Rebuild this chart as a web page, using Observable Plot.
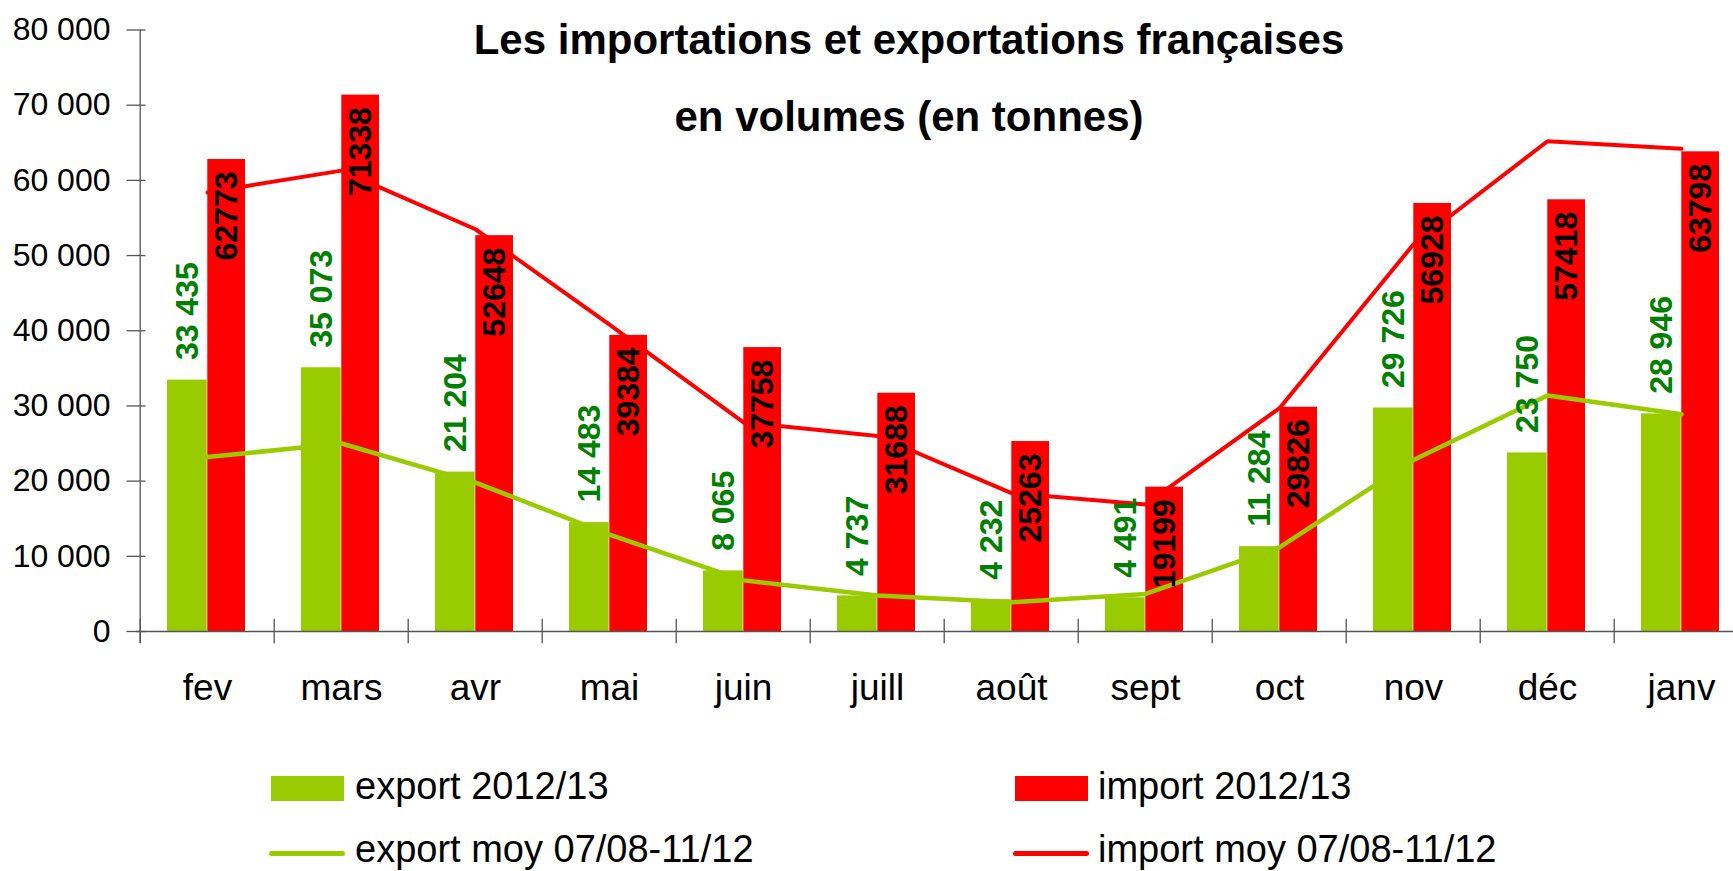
<!DOCTYPE html>
<html>
<head>
<meta charset="utf-8">
<script src="https://cdn.jsdelivr.net/npm/d3@7"></script>
<script src="https://cdn.jsdelivr.net/npm/@observablehq/plot@0.6"></script>
<style>
html, body { margin: 0; padding: 0; background: #fff; overflow: hidden; }
#wrap { position: relative; width: 1733px; height: 871px; font-family: "Liberation Sans", Arial, sans-serif; color: #000; }
#chart { position: absolute; left: 0; top: 0; }
#title { position: absolute; left: 409px; top: 2.1px; width: 1000px; text-align: center; font-weight: bold; font-size: 42px; line-height: 76.7px; white-space: nowrap; }
.lg-text { position: absolute; font-size: 38px; line-height: 38px; white-space: nowrap; }
.lg-box { position: absolute; width: 73px; height: 25px; }
.lg-line { position: absolute; width: 76px; height: 5px; border-radius: 2.5px; }
</style>
</head>
<body>
<div id="wrap">
  <div id="chart"></div>
  <div id="title">Les importations et exportations françaises<br>en volumes (en tonnes)</div>
  <div id="legend"></div>
</div>
<script>
// ---- data ----
const months = ["fev", "mars", "avr", "mai", "juin", "juill", "août", "sept", "oct", "nov", "déc", "janv"];
const exportVals = [33435, 35073, 21204, 14483, 8065, 4737, 4232, 4491, 11284, 29726, 23750, 28946];
const importVals = [62773, 71338, 52648, 39384, 37758, 31688, 25263, 19199, 29826, 56928, 57418, 63798];
const exportAvg = [23200, 25000, 19800, 12900, 6800, 4800, 3900, 5000, 11200, 22800, 31400, 28900];
const importAvg = [58400, 61300, 53500, 40800, 27800, 26000, 18400, 16900, 29700, 51500, 65200, 64200];
const yTicks = [0, 10000, 20000, 30000, 40000, 50000, 60000, 70000, 80000];
const seriesNames = ["export 2012/13", "import 2012/13", "export moy 07/08-11/12", "import moy 07/08-11/12"];

const GREEN = "#99CC00", RED = "#FF0000", LABEL_GREEN = "#008000", AXIS = "#555";
const X0 = 136, X1 = 1751;
const bw = (X1 - X0) / months.length;

const rows = months.map((m, i) => ({
  month: m, exp: exportVals[i], imp: importVals[i], expAvg: exportAvg[i], impAvg: importAvg[i]
}));
const fmtSpace = d => d3.format(",")(d).replace(/,/g, " ");

const chart = Plot.plot({
  width: 1733,
  height: 720,
  marginTop: 29.5,
  marginBottom: 89,
  marginLeft: X0,
  marginRight: 0,
  style: { fontFamily: "'Liberation Sans', Arial, sans-serif", background: "white", overflow: "hidden" },
  x: { type: "band", domain: months, range: [X0, X1], padding: 0, axis: null, label: null },
  y: { domain: [0, 80000], axis: null, label: null },
  marks: [
    Plot.barY(rows, { x: "month", y: "exp", fill: GREEN, insetLeft: 27, insetRight: bw / 2 }),
    Plot.barY(rows, { x: "month", y: "imp", fill: RED, insetLeft: bw / 2, insetRight: 29 }),
    Plot.ruleY([0], { stroke: AXIS, strokeWidth: 1.3 }),
    Plot.ruleX([months[0]], { dx: -bw / 2, stroke: AXIS, strokeWidth: 1.3, insetBottom: -12 }),
    Plot.axisX({ tickSize: 24.5, dx: -bw / 2, dy: -12.3, text: null, label: null, stroke: AXIS, strokeWidth: 1.3 }),
    Plot.axisX({ tickSize: 0, tickPadding: 42, fontSize: 37, fill: "black", label: null }),
    Plot.axisY({ ticks: yTicks, tickSize: 19, dx: 9.5, text: null, label: null, stroke: AXIS, strokeWidth: 1.3 }),
    Plot.axisY({ ticks: yTicks, tickSize: 0, tickPadding: 26, tickFormat: fmtSpace, fontSize: 32, fill: "black", label: null }),
    Plot.line(rows, { x: "month", y: "expAvg", stroke: GREEN, strokeWidth: 4.5, strokeLinejoin: "round", strokeLinecap: "round" }),
    Plot.line(rows, { x: "month", y: "impAvg", stroke: RED, strokeWidth: 4, strokeLinejoin: "round", strokeLinecap: "round" }),
    Plot.text(rows, { x: "month", y: "exp", text: d => fmtSpace(d.exp), rotate: -90, textAnchor: "start",
      dx: -20, dy: -20, fill: LABEL_GREEN, fontWeight: "bold", fontSize: 32 }),
    Plot.text(rows, { x: "month", y: "imp", text: d => String(d.imp), rotate: -90, textAnchor: "end",
      dx: 19, dy: 12, fill: "black", fontWeight: "bold", fontSize: 32 })
  ]
});
document.getElementById("chart").appendChild(chart);

// ---- legend ----
const legend = document.getElementById("legend");
const legendItems = [
  { name: seriesNames[0], kind: "box", color: GREEN, left: 271, sym: 776, text: 355, top: 767.1 },
  { name: seriesNames[1], kind: "box", color: RED, left: 1015, sym: 776, text: 1098, top: 767.1 },
  { name: seriesNames[2], kind: "line", color: GREEN, left: 269, sym: 851, text: 355, top: 829.5 },
  { name: seriesNames[3], kind: "line", color: RED, left: 1013, sym: 851, text: 1098, top: 829.5 }
];
for (const it of legendItems) {
  const s = document.createElement("div");
  s.className = it.kind === "box" ? "lg-box" : "lg-line";
  s.style.left = it.left + "px";
  s.style.top = it.sym + "px";
  s.style.background = it.color;
  legend.appendChild(s);
  const t = document.createElement("div");
  t.className = "lg-text";
  t.style.left = it.text + "px";
  t.style.top = it.top + "px";
  t.textContent = it.name;
  legend.appendChild(t);
}
</script>
</body>
</html>
